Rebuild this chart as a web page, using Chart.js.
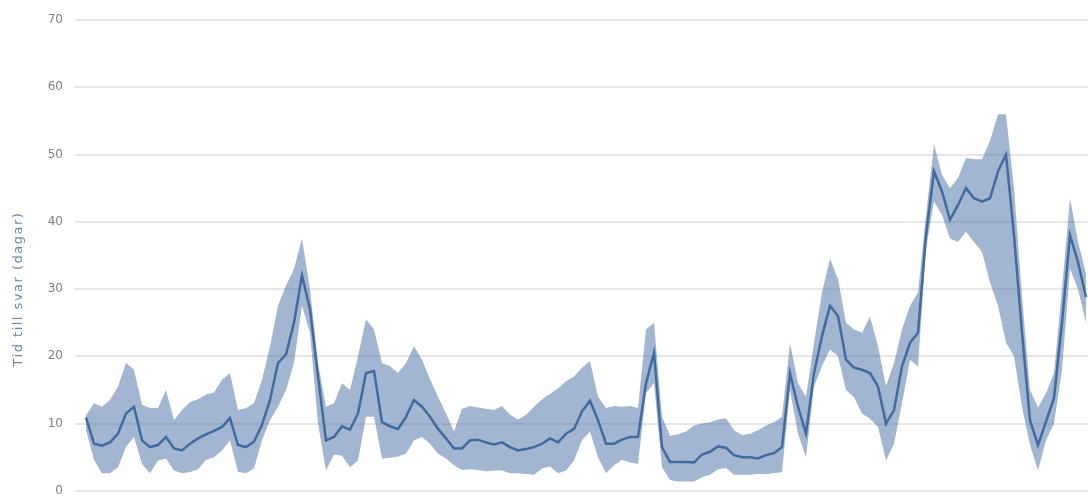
<!DOCTYPE html>
<html lang="sv">
<head>
    <meta charset="UTF-8">
    <title>Tid till svar</title>
    <style>
        html, body { margin: 0; padding: 0; background: #fff; overflow: hidden; }
        #wrap { width: 1088px; height: 510px; }
    </style>
</head>
<body>
    <div id="wrap">
        <canvas id="svarstid"></canvas>
    </div>

    <script src="https://cdn.jsdelivr.net/npm/chart.js"></script>

    <script>
        // Medelvärde för svarstid per vecka (dagar)
        const medel = [
            10.9, 7.0, 6.7, 7.2, 8.5, 11.5, 12.5, 7.5, 6.5, 6.8,
            8.0, 6.3, 6.0, 7.0, 7.8, 8.4, 8.9, 9.5, 10.8, 6.8,
            6.5, 7.3, 9.8, 13.5, 19.0, 20.3, 25.0, 32.0, 27.0, 17.0,
            7.5, 8.0, 9.6, 9.1, 11.5, 17.5, 17.8, 10.2, 9.6, 9.2,
            11.0, 13.5, 12.5, 11.0, 9.2, 7.8, 6.3, 6.3, 7.5, 7.6,
            7.2, 6.9, 7.2, 6.5, 6.0, 6.2, 6.5, 7.0, 7.8, 7.2,
            8.5, 9.2, 11.8, 13.4, 10.5, 7.0, 7.0, 7.6, 8.0, 8.0,
            16.0, 20.5, 6.5, 4.3, 4.3, 4.3, 4.2, 5.4, 5.8, 6.6,
            6.4, 5.3, 5.0, 5.0, 4.8, 5.3, 5.6, 6.5, 17.5, 12.5,
            8.5, 17.5, 23.0, 27.5, 26.0, 19.5, 18.3, 18.0, 17.5, 15.5,
            10.0, 12.0, 18.5, 22.0, 23.5, 38.0, 47.5, 44.5, 40.3, 42.5,
            45.0, 43.5, 43.0, 43.5, 47.5, 50.0, 38.0, 23.5, 10.5, 6.8,
            10.3, 13.8, 25.0, 38.0, 34.0, 28.8
        ];

        // Övre gräns för intervallet
        const ovre = [
            11.2, 13.0, 12.5, 13.5, 15.5, 19.0, 18.0, 12.8, 12.3, 12.3,
            15.0, 10.5, 12.0, 13.2, 13.6, 14.3, 14.6, 16.5, 17.5, 12.0,
            12.3, 13.0, 16.5, 21.5, 27.5, 30.5, 33.0, 37.5, 30.0, 19.0,
            12.5, 13.0, 16.0, 15.0, 20.0, 25.5, 24.0, 19.0, 18.5, 17.5,
            19.0, 21.5, 19.5, 16.6, 14.0, 11.5, 8.8, 12.2, 12.6, 12.4,
            12.2, 12.0, 12.6, 11.3, 10.6, 11.3, 12.5, 13.6, 14.4, 15.2,
            16.3, 17.0, 18.3, 19.3, 14.0, 12.3, 12.6, 12.5, 12.6, 12.3,
            24.0, 25.0, 11.0, 8.2, 8.4, 8.8, 9.7, 10.0, 10.2, 10.6,
            10.8, 9.0, 8.3, 8.5, 9.0, 9.7, 10.2, 11.0, 22.0, 16.0,
            14.0, 22.0, 29.5, 34.5, 31.5, 25.0, 24.0, 23.5, 25.9, 21.5,
            15.6, 19.0, 24.0, 27.5, 29.5, 41.0, 51.5, 47.0, 45.0, 46.5,
            49.5, 49.3, 49.3, 52.0, 56.0, 56.0, 45.0, 29.0, 15.0, 12.4,
            14.5, 17.5, 30.0, 43.5, 37.0, 32.3
        ];

        // Undre gräns för intervallet
        const undre = [
            9.0, 4.6, 2.6, 2.6, 3.5, 6.5, 8.0, 4.0, 2.6, 4.5,
            4.8, 3.0, 2.6, 2.8, 3.2, 4.6, 5.0, 6.0, 7.5, 2.8,
            2.6, 3.3, 7.5, 10.5, 12.5, 15.0, 19.0, 27.5, 23.5, 10.0,
            3.0, 5.4, 5.2, 3.5, 4.5, 11.0, 11.0, 4.8, 4.9, 5.1,
            5.5, 7.5, 8.0, 7.0, 5.5, 4.8, 3.8, 3.1, 3.2, 3.1,
            2.9, 3.0, 3.0, 2.6, 2.6, 2.5, 2.4, 3.3, 3.6, 2.6,
            3.0, 4.5, 7.5, 8.8, 5.0, 2.6, 3.8, 4.6, 4.2, 4.0,
            14.5, 16.0, 3.5, 1.6, 1.4, 1.4, 1.4, 2.0, 2.4, 3.2,
            3.4, 2.4, 2.4, 2.4, 2.5, 2.5, 2.6, 2.8, 15.0, 8.5,
            5.0, 15.5, 18.5, 21.0, 20.0, 15.0, 13.9, 11.5, 10.7, 9.5,
            4.5, 7.0, 13.0, 19.5, 18.5, 36.0, 43.0, 41.0, 37.5, 37.0,
            38.5, 37.0, 35.5, 31.0, 27.5, 22.0, 20.0, 12.5, 6.8, 3.0,
            7.5, 10.0, 18.0, 33.0, 30.0, 25.0
        ];

        const veckor = medel.map((_, i) => i);
        const yTicks = [0, 10, 20, 30, 40, 50, 60, 70];

        const linjeFarg = '#3d6898';
        const bandFarg = 'rgba(70, 110, 165, 0.5)';

        // Y-axelns titel ritas för hand så att den kan placeras fritt längs axeln
        const axelTitel = {
            id: 'axelTitel',
            afterDraw(chart) {
                const ctx = chart.ctx;
                const y = chart.scales.y.getPixelForValue(30);
                ctx.save();
                ctx.translate(19, y);
                ctx.rotate(-Math.PI / 2);
                ctx.font = '13px "DejaVu Sans"';
                ctx.letterSpacing = '1.5px';
                ctx.fillStyle = '#6a87ad';
                ctx.textAlign = 'center';
                ctx.textBaseline = 'middle';
                ctx.fillText('Tid till svar (dagar)', 0, 0);
                ctx.restore();
            }
        };

        new Chart(document.getElementById('svarstid'), {
            type: 'line',
            data: {
                labels: veckor,
                datasets: [
                    {
                        label: 'Övre',
                        data: ovre,
                        borderWidth: 0,
                        pointRadius: 0,
                        backgroundColor: bandFarg,
                        fill: '+1',
                    },
                    {
                        label: 'Undre',
                        data: undre,
                        borderWidth: 0,
                        pointRadius: 0,
                        fill: false,
                    },
                    {
                        label: 'Medel',
                        data: medel,
                        borderColor: linjeFarg,
                        borderWidth: 2.5,
                        pointRadius: 0,
                        fill: false,
                    }
                ]
            },
            options: {
                responsive: true,
                maintainAspectRatio: false,
                animation: false,
                layout: { padding: { top: 20, bottom: 14, left: 0, right: 0 } },
                plugins: {
                    legend: { display: false },
                    tooltip: { enabled: false }
                },
                scales: {
                    x: {
                        type: 'linear',
                        display: false,
                        min: -1.375,
                        max: 125.25,
                    },
                    y: {
                        min: 0,
                        max: 70,
                        afterFit: s => { s.width = 75; },
                        afterBuildTicks: s => { s.ticks = yTicks.map(v => ({ value: v })); },
                        border: { display: false },
                        grid: {
                            color: '#e6e6e6',
                            lineWidth: 2,
                            drawTicks: false,
                        },
                        ticks: {
                            padding: 12,
                            color: '#808080',
                            font: { family: '"DejaVu Sans"', size: 12 },
                        }
                    }
                }
            },
            plugins: [axelTitel]
        });
    </script>
</body>
</html>
